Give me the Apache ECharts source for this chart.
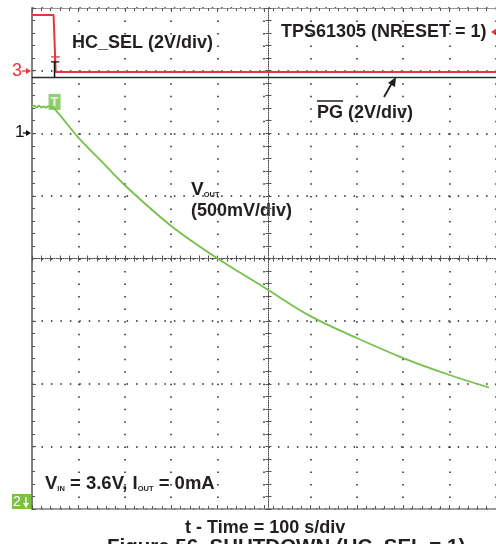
<!DOCTYPE html>
<html><head><meta charset="utf-8">
<script src="https://cdn.jsdelivr.net/npm/echarts@6/dist/echarts.min.js"></script>
<style>html,body{margin:0;padding:0;background:#fff}#c{width:496px;height:544px}</style>
</head><body><div id="c"></div>
<script>
// time in seconds (100 s/div), amplitude in screen divisions (0..8)
const voutTime = [0, 5, 10, 15, 20, 25, 30, 35, 42, 52, 100, 150, 200, 300, 400, 500, 600, 700, 800, 900, 985];
const voutDiv  = [6.42, 6.44, 6.41, 6.44, 6.41, 6.43, 6.41, 6.43, 6.42, 6.36, 5.93, 5.55, 5.17, 4.52, 4.00, 3.54, 3.08, 2.73, 2.41, 2.14, 1.94];
const hcSelTime = [0, 46.5, 51, 1000];
const hcSelDiv  = [7.89, 7.89, 6.98, 6.98];
const pgTime = [0, 1000];
const pgDiv  = [6.89, 6.89];
const trigTime = [48.6];
const trigDiv  = [6.5];
const redCursorTime = [41, 60]; const redCursorDiv = [7.22, 7.22];
const redCursorStemTime = [48.6, 48.6]; const redCursorStemDiv = [7.22, 6.98];
const blkCursorTime = [41, 59]; const blkCursorDiv = [7.14, 7.14];
const blkCursorStemTime = [48.6, 48.6]; const blkCursorStemDiv = [7.14, 6.89];
const xTickInterval = 100, xMin = 0, xMax = 1000;
const yTickInterval = 1, yMin = 0, yMax = 8;

const pair = (xs, ys) => xs.map((x, i) => [x, ys[i]]);

const G = {left: 32, top: 8, width: 473, height: 501};
const dotX = 47.3 / 5, dotY = 62.625 / 5;
const FONT = '"Liberation Sans", Arial, sans-serif';
const TXT = '#231f20';

function xAx(extra) {
  return Object.assign({
    type: 'value', min: xMin, max: xMax, interval: xTickInterval,
    axisLabel: {show: false}, splitLine: {show: false},
    axisLine: {show: false}, axisTick: {show: false}, minorTick: {show: false}
  }, extra);
}
function yAx(extra) {
  return Object.assign({
    type: 'value', min: yMin, max: yMax, interval: yTickInterval,
    axisLabel: {show: false}, splitLine: {show: false},
    axisLine: {show: false}, axisTick: {show: false}, minorTick: {show: false}
  }, extra);
}
const tickStyle = {color: '#555', width: 1};
const centerOffX = -G.height / 2, centerOffY = -G.width * 5 / 10;

const option = {
  animation: false,
  backgroundColor: '#fff',
  grid: {left: G.left, top: G.top, width: G.width, height: G.height, containLabel: false},
  xAxis: [
    xAx({position: 'bottom',
      axisLine: {show: true, onZero: false, lineStyle: {color: '#808080', width: 1.5}},
      axisTick: {show: true, inside: true, length: 4, lineStyle: tickStyle},
      minorTick: {show: true, splitNumber: 5, length: 3, lineStyle: tickStyle},
      splitLine: {show: true, lineStyle: {color: '#222', width: 1.5, type: [1.5, dotY - 1.5]}}}),
    xAx({position: 'top',
      axisLine: {show: true, onZero: false, lineStyle: {color: '#999', width: 1}},
      axisTick: {show: true, inside: true, length: 4, lineStyle: tickStyle},
      minorTick: {show: true, splitNumber: 5, length: 3, lineStyle: tickStyle}}),
    xAx({position: 'bottom', offset: centerOffX,
      axisLine: {show: true, onZero: false, lineStyle: {color: '#444', width: 1, type: [1, 1.2]}},
      axisTick: {show: true, inside: true, length: 3, lineStyle: tickStyle},
      minorTick: {show: true, splitNumber: 5, length: 3, lineStyle: tickStyle}}),
    xAx({position: 'bottom', offset: centerOffX,
      axisTick: {show: true, inside: false, length: 3, lineStyle: tickStyle},
      minorTick: {show: true, splitNumber: 5, length: 3, lineStyle: tickStyle}})
  ],
  yAxis: [
    yAx({position: 'left',
      axisLine: {show: true, onZero: false, lineStyle: {color: '#808080', width: 2}},
      axisTick: {show: true, inside: true, length: 4, lineStyle: tickStyle},
      minorTick: {show: true, splitNumber: 5, length: 3, lineStyle: tickStyle},
      splitLine: {show: true, lineStyle: {color: '#222', width: 1.5, type: [1.5, dotX - 1.5]}}}),
    yAx({position: 'left', offset: centerOffY,
      axisLine: {show: true, onZero: false, lineStyle: {color: '#444', width: 1, type: [1, 1.2]}},
      axisTick: {show: true, inside: true, length: 3, lineStyle: tickStyle},
      minorTick: {show: true, splitNumber: 5, length: 3, lineStyle: tickStyle}}),
    yAx({position: 'left', offset: centerOffY,
      axisTick: {show: true, inside: false, length: 3, lineStyle: tickStyle},
      minorTick: {show: true, splitNumber: 5, length: 3, lineStyle: tickStyle}})
  ],
  series: [
    {type: 'line', data: pair(pgTime, pgDiv), showSymbol: false, silent: true,
      lineStyle: {color: '#2a2a2a', width: 1.6}},
    {type: 'line', data: pair(hcSelTime, hcSelDiv), showSymbol: false, silent: true,
      lineStyle: {color: '#e6373d', width: 2}},
    {type: 'line', data: pair(redCursorTime, redCursorDiv), showSymbol: false, lineStyle: {color: '#e6373d', width: 1.2}},
    {type: 'line', data: pair(redCursorStemTime, redCursorStemDiv), showSymbol: false, lineStyle: {color: '#e6373d', width: 1.2}},
    {type: 'line', data: pair(blkCursorTime, blkCursorDiv), showSymbol: false, lineStyle: {color: '#111', width: 1.2}},
    {type: 'line', data: pair(blkCursorStemTime, blkCursorStemDiv), showSymbol: false, lineStyle: {color: '#111', width: 1.5}},
    {type: 'line', data: pair(voutTime, voutDiv), showSymbol: false, silent: true, smooth: 0.35,
      lineStyle: {color: '#74c24a', width: 1.8}},
    {type: 'scatter', data: pair(trigTime, trigDiv), symbol: 'rect', symbolSize: [12, 16],
      itemStyle: {color: '#74c24a'},
      label: {show: true, position: 'inside', formatter: 'T', color: '#fff', fontWeight: 'bold', fontSize: 13, fontFamily: FONT}}
  ],
  graphic: [
    {type: 'text', left: 72, top: 34, style: {text: 'HC_SEL (2V/div)', font: 'bold 18px ' + FONT, fill: TXT}},
    {type: 'text', left: 281, top: 23, style: {text: 'TPS61305 (NRESET = 1)', font: 'bold 18px ' + FONT, fill: TXT}},
    {type: 'polygon', shape: {points: [[491, 32], [497, 28], [497, 36]]}, style: {fill: '#e6373d'}},
    {type: 'text', left: 317, top: 104, style: {text: 'PG (2V/div)', font: 'bold 18px ' + FONT, fill: TXT}},
    {type: 'line', shape: {x1: 317, y1: 101, x2: 343, y2: 101}, style: {stroke: TXT, lineWidth: 1.5}},
    {type: 'line', shape: {x1: 384, y1: 97, x2: 392, y2: 83}, style: {stroke: TXT, lineWidth: 1.8}},
    {type: 'polygon', shape: {points: [[396, 77], [395, 87], [388, 83]]}, style: {fill: TXT}},
    {type: 'text', left: 191, top: 180, style: {text: '{b|V}{s|OUT}', fill: TXT,
      rich: {b: {font: 'bold 19px ' + FONT, fill: TXT, lineHeight: 19}, s: {font: 'bold 7.5px ' + FONT, fill: TXT, verticalAlign: 'bottom', lineHeight: 10}}}},
    {type: 'text', left: 191, top: 202, style: {text: '(500mV/div)', font: 'bold 18px ' + FONT, fill: TXT}},
    {type: 'text', left: 45, top: 474, style: {text: '{b|V}{s|IN}{b| = 3.6V, I}{s|OUT}{b| = 0mA}', fill: TXT,
      rich: {b: {font: 'bold 18.5px ' + FONT, fill: TXT, lineHeight: 18}, s: {font: 'bold 7.5px ' + FONT, fill: TXT, verticalAlign: 'bottom', lineHeight: 8}}}},
    {type: 'text', left: 12, top: 62, style: {text: '3', font: '18px ' + FONT, fill: '#e6373d'}},
    {type: 'line', shape: {x1: 22, y1: 71, x2: 28, y2: 71}, style: {stroke: '#e6373d', lineWidth: 1.3}},
    {type: 'polygon', shape: {points: [[31, 71], [26, 68], [26, 74]]}, style: {fill: '#e6373d'}},
    {type: 'text', left: 15, top: 124, style: {text: '1', font: '17px ' + FONT, fill: '#111'}},
    {type: 'line', shape: {x1: 23, y1: 133, x2: 28, y2: 133}, style: {stroke: '#111', lineWidth: 1.3}},
    {type: 'polygon', shape: {points: [[31, 133], [26, 130], [26, 136]]}, style: {fill: '#111'}},
    {type: 'rect', shape: {x: 12, y: 494, width: 19, height: 15}, style: {fill: '#7cc242'}},
    {type: 'text', left: 13, top: 495, style: {text: '2', font: '14px ' + FONT, fill: '#fff'}},
    {type: 'line', shape: {x1: 26, y1: 497, x2: 26, y2: 504}, style: {stroke: '#fff', lineWidth: 1.3}},
    {type: 'polygon', shape: {points: [[26, 508], [23, 503], [29, 503]]}, style: {fill: '#fff'}},
    {type: 'text', left: 185, top: 519, style: {text: 't - Time = 100 s/div', font: 'bold 18px ' + FONT, fill: TXT}},
    {type: 'text', left: 107, top: 537, style: {text: 'Figure 56. SHUTDOWN (HC_SEL = 1)', font: 'bold 20.5px ' + FONT, fill: TXT}}
  ]
};
const chart = echarts.init(document.getElementById('c'), null, {renderer: 'canvas'});
chart.setOption(option);
</script>
</body></html>
